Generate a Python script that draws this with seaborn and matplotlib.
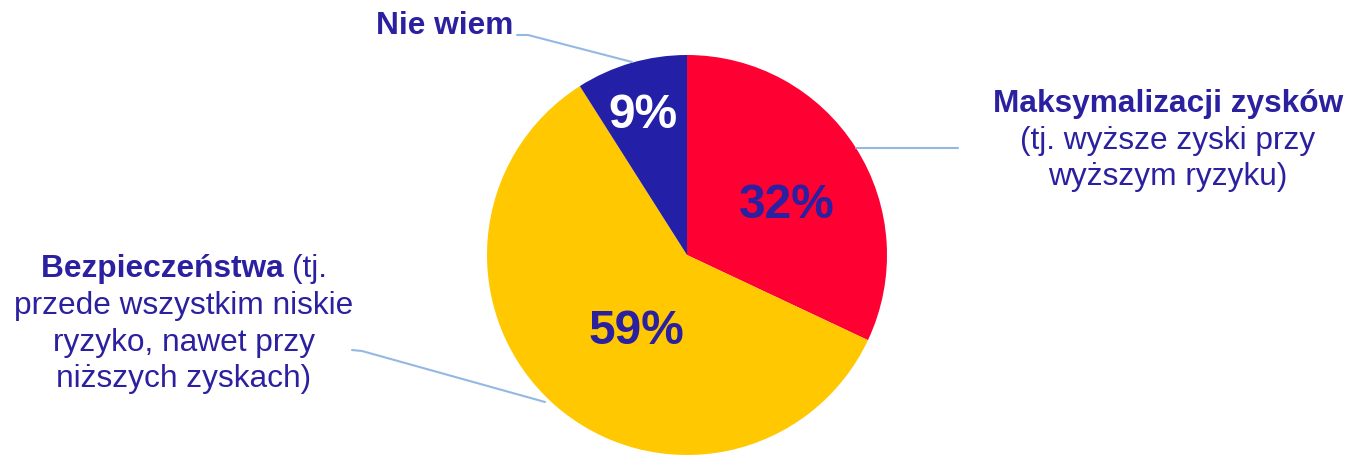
import matplotlib
matplotlib.use("Agg")
import matplotlib.pyplot as plt
import seaborn as sns

# ---- data ----
categories = ["Maksymalizacji zysków", "Bezpieczeństwa", "Nie wiem"]
values = [32, 59, 9]
wedge_colors = ["#FF0033", "#FFC800", "#231FA6"]
pct_colors = ["#2B20A0", "#2B20A0", "#FFFFFF"]
maks_sub = ["(tj. wyższe zyski przy", "wyższym ryzyku)"]
bezp_first = "(tj."
bezp_sub = ["przede wszystkim niskie", "ryzyko, nawet przy", "niższych zyskach)"]

sns.set_style("white")
plt.rcParams["font.family"] = ["Liberation Sans", "DejaVu Sans"]

W, H = 1349, 457
fig = plt.figure(figsize=(W / 100, H / 100), dpi=100)
ax = fig.add_axes([0, 0, 1, 1])

def Y(p):
    return H - p

TXT = "#2B20A0"
LINE = "#95B8E3"

cx, cy, r = 687, 255, 200
ax.pie(values, colors=wedge_colors, startangle=90, counterclock=False,
       center=(cx, Y(cy)), radius=r, frame=True,
       wedgeprops=dict(linewidth=0))
ax.set_xlim(0, W)
ax.set_ylim(0, H)
ax.set_aspect("equal")
ax.axis("off")

# percentage labels
pct_pos = [(787, 205), (636, 331), (643, 115)]
for v, (px, py), c in zip(values, pct_pos, pct_colors):
    ax.text(px, Y(py), f"{v}%", color=c, fontsize=34.5, fontweight="bold",
            ha="center", va="center")

fs = 22.8
# Maksymalizacji label
ax.text(1168, Y(104), categories[0], color=TXT, fontsize=fs, fontweight="bold",
        ha="center", va="center")
for i, line in enumerate(maks_sub):
    ax.text(1168, Y(141 + 36.5 * i), line, color=TXT, fontsize=fs,
            ha="center", va="center")

# Nie wiem label
ax.text(445, Y(26), categories[2], color=TXT, fontsize=fs, fontweight="bold",
        ha="center", va="center")

# Bezpieczenstwa label (mixed weight first line)
t1 = ax.text(0, Y(269), categories[1] + " ", color=TXT, fontsize=fs,
             fontweight="bold", ha="left", va="center")
t2 = ax.text(0, Y(269), bezp_first, color=TXT, fontsize=fs, ha="left", va="center")
fig.canvas.draw()
rend = fig.canvas.get_renderer()
w1 = t1.get_window_extent(rend).width
w2 = t2.get_window_extent(rend).width
bx = 184
start = bx - (w1 + w2) / 2
t1.set_x(start)
t2.set_x(start + w1)
for i, line in enumerate(bezp_sub):
    ax.text(bx, Y(306 + 36.7 * i), line, color=TXT, fontsize=fs,
            ha="center", va="center")

# leader lines
ax.plot([517, 528, 632], [Y(35), Y(35), Y(62)], color=LINE, lw=1.5)
ax.plot([856, 958], [Y(148), Y(148)], color=LINE, lw=1.5)
ax.plot([352, 362, 545], [Y(350), Y(351), Y(402)], color=LINE, lw=1.5)

fig.savefig("out.png", dpi=100)
